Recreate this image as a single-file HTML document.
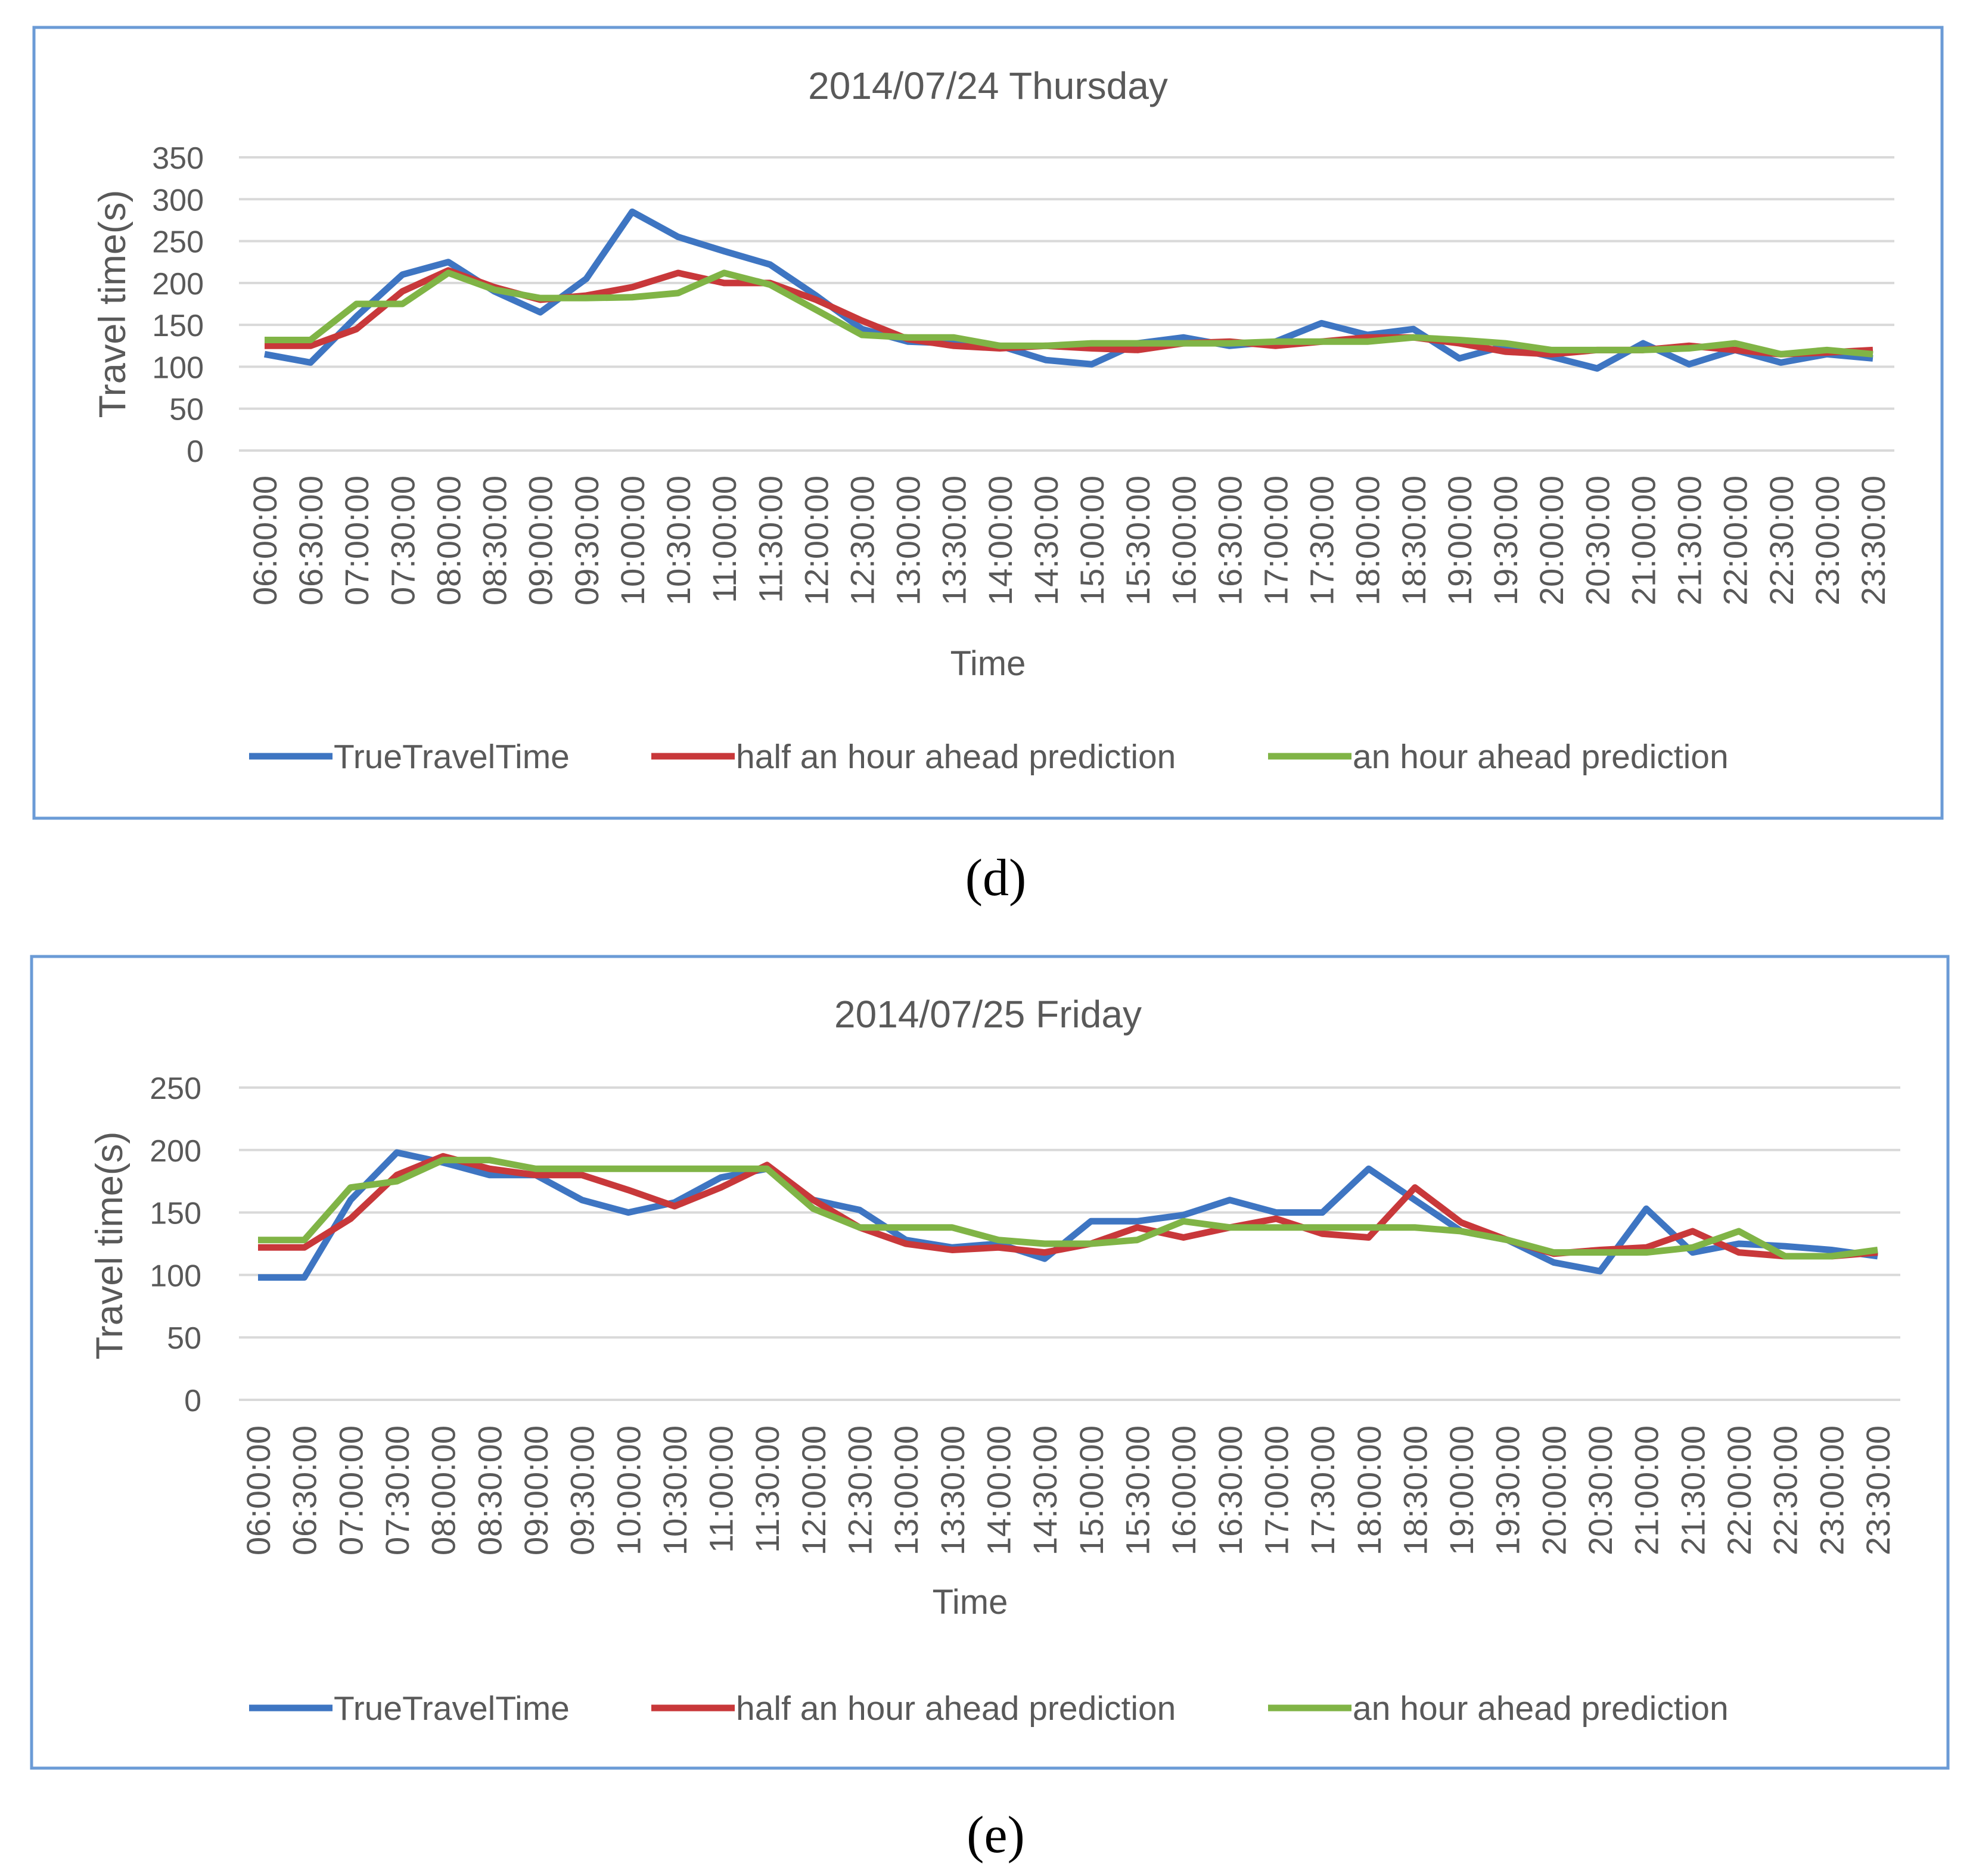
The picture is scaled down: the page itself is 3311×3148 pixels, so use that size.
<!DOCTYPE html>
<html><head><meta charset="utf-8">
<style>
html,body{margin:0;padding:0;background:#fff;}
svg{display:block;}
text{font-family:"Liberation Sans","DejaVu Sans",sans-serif;fill:#595959;}
.cap{font-family:"Liberation Serif",serif;fill:#000;}
</style></head>
<body>
<svg id="svg" width="3311" height="3148" viewBox="0 0 3311 3148" xmlns="http://www.w3.org/2000/svg"></svg>
<script>
const categories = ["06:00:00","06:30:00","07:00:00","07:30:00","08:00:00","08:30:00","09:00:00","09:30:00","10:00:00","10:30:00","11:00:00","11:30:00","12:00:00","12:30:00","13:00:00","13:30:00","14:00:00","14:30:00","15:00:00","15:30:00","16:00:00","16:30:00","17:00:00","17:30:00","18:00:00","18:30:00","19:00:00","19:30:00","20:00:00","20:30:00","21:00:00","21:30:00","22:00:00","22:30:00","23:00:00","23:30:00"];
const seriesNames = ["TrueTravelTime","half an hour ahead prediction","an hour ahead prediction"];
const dTrue = [115,105,160,210,225,190,165,205,285,255,238,222,185,145,130,128,125,108,103,128,135,125,130,152,138,145,110,125,112,98,128,103,120,105,115,110];
const dHalf = [125,125,145,190,215,195,180,185,195,212,200,200,180,155,133,125,122,125,122,120,128,130,125,130,135,135,128,118,115,120,120,125,120,115,117,120];
const dHour = [132,132,175,175,212,192,182,182,183,188,212,198,168,138,135,135,125,125,128,128,128,128,130,130,130,135,132,128,120,120,120,122,128,115,120,115];
const eTrue = [98,98,160,198,190,180,180,160,150,158,178,185,160,152,128,122,125,113,143,143,148,160,150,150,185,160,135,128,110,103,153,118,125,123,120,115];
const eHalf = [122,122,145,180,195,185,180,180,168,155,170,188,160,138,125,120,122,118,125,138,130,138,145,133,130,170,142,128,117,120,122,135,118,115,115,118];
const eHour = [128,128,170,175,192,192,185,185,185,185,185,185,153,138,138,138,128,125,125,128,143,138,138,138,138,138,135,128,118,118,118,122,135,115,115,120];
const dTicks = [0,50,100,150,200,250,300,350];
const eTicks = [0,50,100,150,200,250];
const colors = ["#3e75c2","#c8383a","#80b446"];

const NS="http://www.w3.org/2000/svg";
const svg=document.getElementById('svg');
function mk(tag,attrs,parent,txt){const e=document.createElementNS(NS,tag);for(const k in attrs)e.setAttribute(k,attrs[k]);if(txt!==undefined)e.textContent=txt;(parent||svg).appendChild(e);return e;}

function panel(cfg){
  const g=mk('g',{});
  
  
  const b=mk('rect',{x:cfg.bx,y:cfg.by,width:cfg.bw,height:cfg.bh,fill:'#fff',stroke:'#6b9bd6','stroke-width':5},g);
  
  
  const t=mk('text',{x:cfg.titleX,y:cfg.titleY,'font-size':64,'text-anchor':'middle'},g,cfg.title);
  
  
  const ymax=cfg.ticks[cfg.ticks.length-1];
  const yS=v=>cfg.y0-(v/ymax)*(cfg.y0-cfg.yTop);
  const xS=i=>cfg.x0+i*(cfg.x1-cfg.x0)/(categories.length-1);
  cfg.ticks.forEach(v=>{
    const l=mk('line',{x1:cfg.gx0,x2:cfg.gx1,y1:yS(v),y2:yS(v),stroke:'#d9d9d9','stroke-width':4},g);
    
    
    const tl=mk('text',{x:cfg.ylabX,y:yS(v)+19,'font-size':52,'text-anchor':'end'},g,String(v));
    
    
  });
  const yt=mk('text',{x:0,y:0,'font-size':63,'text-anchor':'middle',transform:`translate(${cfg.ytX},${cfg.ytY}) rotate(-90)`},g,'Travel time(s)');
  
  
  categories.forEach((c,i)=>{
    const tx=mk('text',{x:0,y:0,'font-size':56,'text-anchor':'end',transform:`translate(${xS(i)+20},${cfg.xlabY}) rotate(-90)`},g,c);
    
    
  });
  const xt=mk('text',{x:cfg.timeX,y:cfg.timeY,'font-size':58,'text-anchor':'middle'},g,'Time');
  
  
  cfg.series.forEach((s,k)=>{
    const p=mk('polyline',{points:s.map((v,i)=>xS(i)+','+yS(v)).join(' '),fill:'none',stroke:colors[k],'stroke-width':11,'stroke-linejoin':'round'},g);
    
    
  });
  const lx=[418,1093,2128];
  seriesNames.forEach((n,k)=>{
    const lg=mk('g',{},g);
    
    
    mk('line',{x1:lx[k],x2:lx[k]+140,y1:cfg.legY,y2:cfg.legY,stroke:colors[k],'stroke-width':11},lg);
    mk('text',{x:lx[k]+142,y:cfg.legY+20,'font-size':57},lg,n);
  });
  const cp=mk('text',{x:1671,y:cfg.capY,'font-size':88,'text-anchor':'middle',class:'cap'},null,cfg.cap);
  
  
}

panel({id:'thursday',bx:57,by:46,bw:3202,bh:1327,title:'2014/07/24 Thursday',titleX:1658,titleY:166,
  ticks:dTicks,y0:756,yTop:264,gx0:401,gx1:3179,x0:444,x1:3143,ylabX:342,ytX:210,ytY:510,
  xlabY:798,timeX:1658,timeY:1133,legY:1269,capY:1502,cap:'(d)',series:[dTrue,dHalf,dHour]});
panel({id:'friday',bx:53,by:1605,bw:3216,bh:1362,title:'2014/07/25 Friday',titleX:1658,titleY:1724,
  ticks:eTicks,y0:2349,yTop:1825,gx0:401,gx1:3189,x0:433,x1:3151,ylabX:338,ytX:205,ytY:2090,
  xlabY:2392,timeX:1628,timeY:2708,legY:2866,capY:3108,cap:'(e)',series:[eTrue,eHalf,eHour]});
</script>
</body></html>
